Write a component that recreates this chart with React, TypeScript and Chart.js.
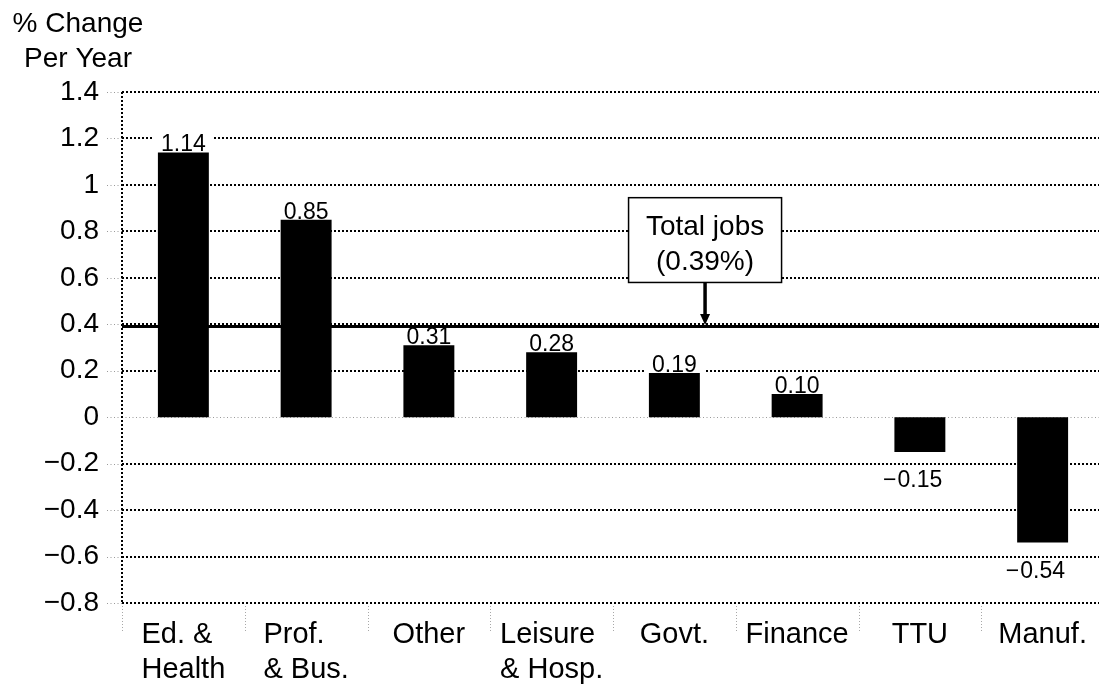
import React, { useEffect, useRef } from "react";
import { Chart, registerables } from "chart.js";

Chart.register(...registerables);

// ---- data ----
const categoryLines: string[][] = [
  ["Ed. &", "Health"],
  ["Prof.", "& Bus."],
  ["Other"],
  ["Leisure", "& Hosp."],
  ["Govt."],
  ["Finance"],
  ["TTU"],
  ["Manuf."],
];
const changePerYear: number[] = [1.14, 0.85, 0.31, 0.28, 0.19, 0.1, -0.15, -0.54];
const totalJobs = 0.39;
const totalJobsText: string[] = ["Total jobs", "(0.39%)"];
const titleLines: string[] = ["% Change", "Per Year"];
const yMin = -0.8;
const yMax = 1.4;
const yStep = 0.2;

// annotation placement (in scale units)
const annoCategory = 4.25;
const annoTop = 0.945;
const annoBottom = 0.58;

const FONT = "'Liberation Sans', Arial, Helvetica, sans-serif";

function dotted(
  ctx: CanvasRenderingContext2D,
  x1: number, y1: number, x2: number, y2: number,
  color: string, width: number, dash: number[]
) {
  ctx.save();
  ctx.strokeStyle = color;
  ctx.lineWidth = width;
  ctx.setLineDash(dash);
  ctx.beginPath();
  ctx.moveTo(x1, y1);
  ctx.lineTo(x2, y2);
  ctx.stroke();
  ctx.restore();
}

const decoPlugin = {
  id: "deco",
  beforeDatasetsDraw(chart: any) {
    const { ctx, chartArea: a, scales } = chart;
    const x = scales.x;
    const y = scales.y;
    y.ticks.forEach((t: any) => {
      const py = Math.round(y.getPixelForValue(t.value));
      dotted(ctx, a.left - 15, py + 0.5, a.left, py + 0.5, "#9a9a9a", 1, [1, 2.5]);
      if (Math.abs(t.value) < 1e-9) {
        dotted(ctx, a.left, py + 0.5, a.right, py + 0.5, "#9a9a9a", 1, [1, 2.5]);
      } else {
        dotted(ctx, a.left, py, a.right, py, "#000", 2, [2, 2]);
      }
    });
    for (let i = 0; i <= categoryLines.length; i++) {
      const px = Math.round(x.getPixelForValue(i - 0.5)) + 0.5;
      dotted(ctx, px, a.bottom + 3, px, a.bottom + 30, "#a8a8a8", 1, [1, 2]);
    }
    const lx = Math.round(a.left);
    dotted(ctx, lx, a.top, lx, a.bottom, "#000", 2, [2, 2]);
  },
  afterDatasetsDraw(chart: any) {
    const { ctx, chartArea: a, scales } = chart;
    const x = scales.x;
    const y = scales.y;
    const meta = chart.getDatasetMeta(0);
    ctx.save();
    ctx.font = `23px ${FONT}`;
    ctx.textBaseline = "alphabetic";
    meta.data.forEach((bar: any, i: number) => {
      const v = changePerYear[i];
      const txt = Math.abs(v).toFixed(2);
      const w = ctx.measureText(txt).width;
      if (v >= 0) {
        const base = bar.y - 1;
        ctx.fillStyle = "#fff";
        ctx.fillRect(bar.x - w / 2 - 8, base - 19, w + 16, 19);
        ctx.fillStyle = "#000";
        ctx.textAlign = "center";
        ctx.fillText(txt, bar.x, base);
      } else {
        const base = bar.y + 35;
        ctx.fillStyle = "#000";
        ctx.textAlign = "center";
        ctx.fillText(txt, bar.x, base);
        ctx.textAlign = "right";
        ctx.fillText("\u2212", bar.x - w / 2 - 1, base);
      }
    });
    ctx.restore();

    // total jobs line
    const ty = y.getPixelForValue(totalJobs);
    ctx.save();
    ctx.strokeStyle = "#000";
    ctx.lineWidth = 3;
    ctx.beginPath();
    ctx.moveTo(a.left, ty);
    ctx.lineTo(a.right, ty);
    ctx.stroke();

    // annotation box
    const cx = x.getPixelForValue(annoCategory);
    const bt = y.getPixelForValue(annoTop);
    const bb = y.getPixelForValue(annoBottom);
    const hw = 76.5;
    ctx.fillStyle = "#fff";
    ctx.fillRect(cx - hw, bt, hw * 2, bb - bt);
    ctx.lineWidth = 1.5;
    ctx.strokeRect(cx - hw, bt, hw * 2, bb - bt);
    ctx.fillStyle = "#000";
    ctx.font = `28px ${FONT}`;
    ctx.textAlign = "center";
    ctx.textBaseline = "alphabetic";
    ctx.fillText(totalJobsText[0], cx, bt + 37);
    ctx.fillText(totalJobsText[1], cx, bt + 72);

    // arrow
    const tip = ty - 1.5;
    ctx.lineWidth = 3.5;
    ctx.beginPath();
    ctx.moveTo(cx, bb);
    ctx.lineTo(cx, tip - 8);
    ctx.stroke();
    ctx.beginPath();
    ctx.moveTo(cx - 5, tip - 11);
    ctx.lineTo(cx + 5, tip - 11);
    ctx.lineTo(cx, tip);
    ctx.closePath();
    ctx.fill();
    ctx.restore();
  },
  afterDraw(chart: any) {
    const { ctx, chartArea: a, scales } = chart;
    const x = scales.x;
    ctx.save();
    ctx.fillStyle = "#000";
    ctx.font = `28px ${FONT}`;
    ctx.textBaseline = "alphabetic";
    // title
    ctx.textAlign = "center";
    ctx.fillText(titleLines[0], 78, 32);
    ctx.fillText(titleLines[1], 78, 67);
    // category labels: block centered, lines left-aligned
    ctx.font = `29px ${FONT}`;
    ctx.textAlign = "left";
    categoryLines.forEach((lines, i) => {
      const cx = x.getPixelForValue(i);
      const bw = Math.max(...lines.map((l) => ctx.measureText(l).width));
      const left = cx - bw / 2;
      lines.forEach((l, j) => {
        ctx.fillText(l, left, a.bottom + 40 + j * 35);
      });
    });
    ctx.restore();
  },
};

export default function App() {
  const ref = useRef<HTMLCanvasElement | null>(null);
  useEffect(() => {
    if (!ref.current) return;
    const chart = new Chart(ref.current, {
      type: "bar",
      data: {
        labels: categoryLines.map((l) => l.join(" ")),
        datasets: [
          {
            data: changePerYear,
            backgroundColor: "#000",
            borderWidth: 0,
            barPercentage: 0.415,
            categoryPercentage: 1,
          },
        ],
      },
      options: {
        animation: false,
        responsive: true,
        maintainAspectRatio: false,
        layout: { padding: { top: 92, left: 0, right: 0, bottom: 0 } },
        plugins: {
          legend: { display: false },
          tooltip: { enabled: false },
          title: { display: false },
        },
        scales: {
          x: {
            type: "category",
            offset: true,
            grid: { display: false },
            border: { display: false },
            ticks: { display: false },
            afterFit: (s: any) => {
              s.height = 84;
            },
          },
          y: {
            type: "linear",
            min: yMin,
            max: yMax,
            grid: { display: false, drawTicks: true, tickLength: 15 },
            border: { display: false },
            ticks: {
              stepSize: yStep,
              maxTicksLimit: 30,
              padding: 8,
              color: "#000",
              font: { family: FONT, size: 28 },
              callback: (v: any) => {
                const r = Math.round(Number(v) * 10) / 10;
                if (r === 0) return "0";
                return r < 0 ? "\u2212" + String(Math.abs(r)) : String(r);
              },
            },
            afterFit: (s: any) => {
              s.width = 122;
            },
          },
        },
      },
      plugins: [decoPlugin],
    });
    return () => chart.destroy();
  }, []);

  return (
    <div
      style={{
        position: "fixed",
        left: 0,
        top: 0,
        width: "1099px",
        height: "687px",
        overflow: "hidden",
        background: "#fff",
      }}
    >
      <div style={{ position: "relative", width: "1104px", height: "687px" }}>
        <canvas ref={ref} />
      </div>
    </div>
  );
}
